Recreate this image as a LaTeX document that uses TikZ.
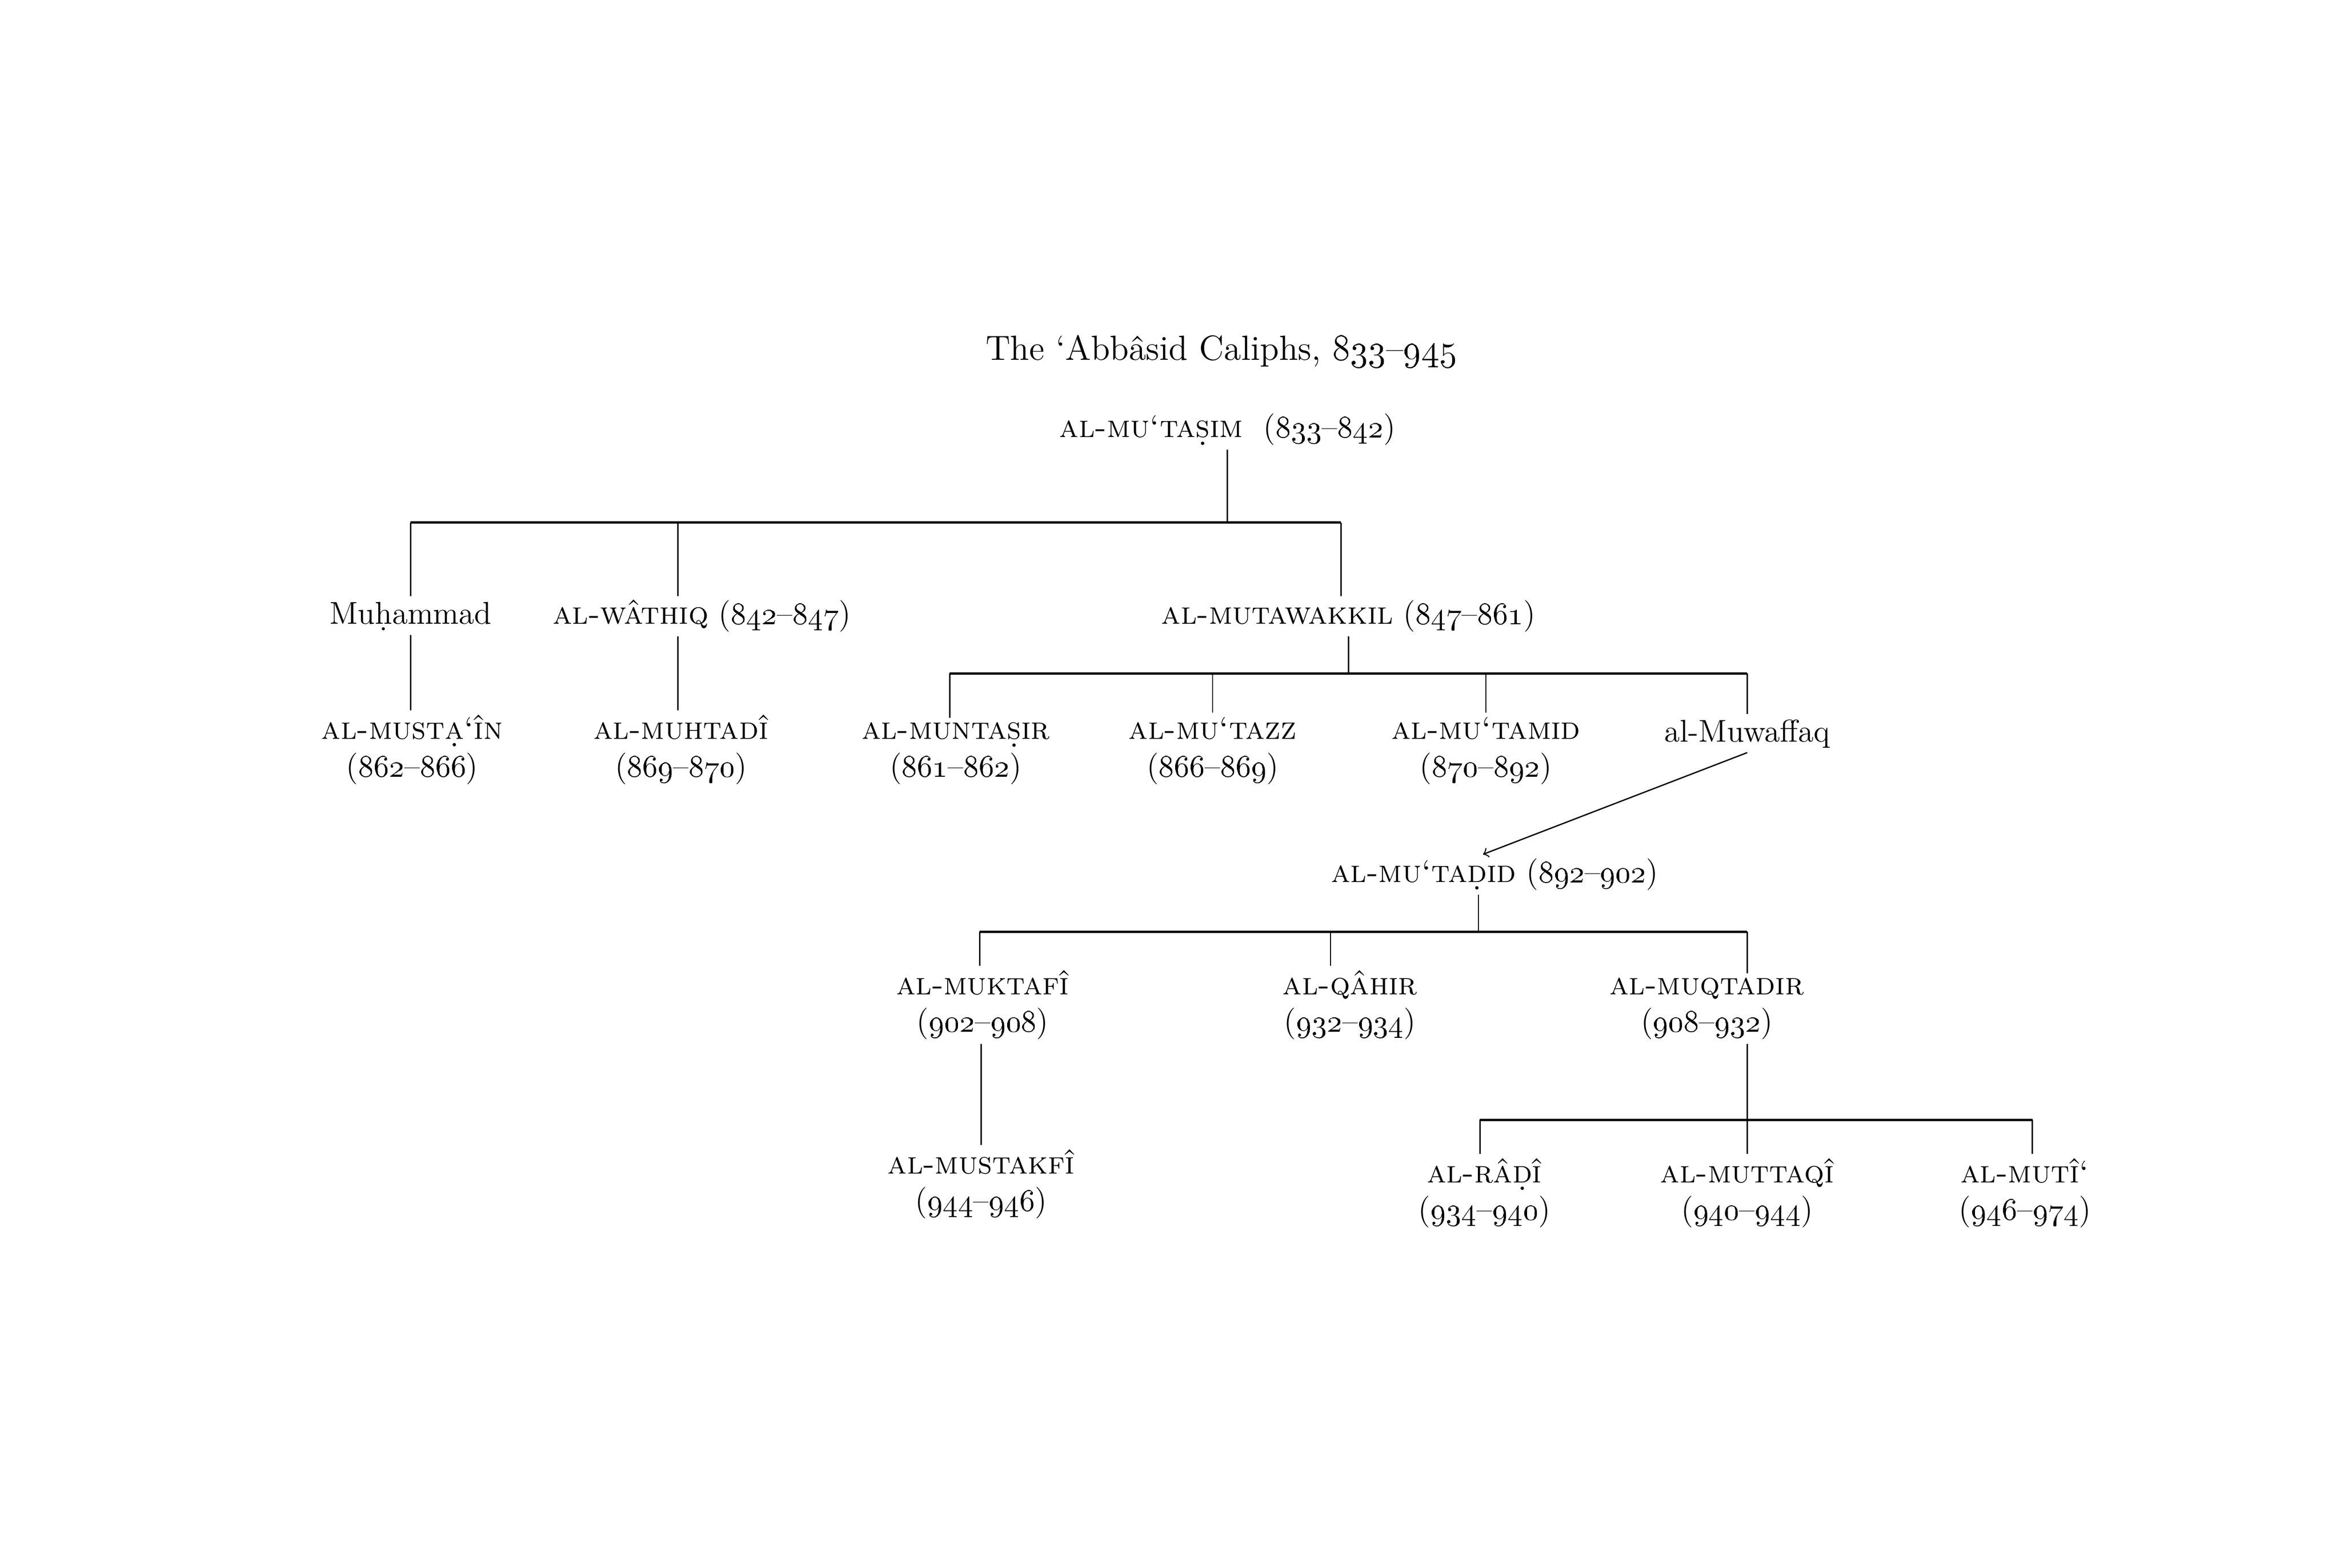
\documentclass[tikz,border=0pt]{standalone}
\usetikzlibrary{calc}
\newcommand\ud[1]{\oalign{#1\crcr\hidewidth.\hidewidth}}
\newcommand\yrs[2]{(\oldstylenums{#1}--\oldstylenums{#2})}
\begin{document}
\begin{tikzpicture}[x=0.2mm,y=-0.2mm,
    every node/.style={inner sep=1.5pt,font=\fontsize{12}{14.2}\selectfont},
    caliph/.style={anchor=base,text height=9pt},
    pair/.style={align=center,anchor=base,execute at begin node={\rule{0pt}{8.5pt}}},
    stem/.style={line width=0.5pt},
    bar/.style={line width=0.9pt}]
        \useasboundingbox (0,0) rectangle (1567,1050);
        \node[anchor=base,font=\fontsize{13.3}{16}\selectfont] (title) at (818,241) {The ‘Abbâsid Caliphs, \oldstylenums{833}--\oldstylenums{945}};
        \node[caliph] (mutasim) at (822,293) {\textsc{al-mu‘ta\ud{s}im}\ \ \yrs{833}{842}};
        \node[caliph] (muhammad) at (275,418) {Mu\ud{h}ammad};
        \node[caliph] (wathiq) at (470,418) {\textsc{al-wâthiq} \yrs{842}{847}};
        \node[caliph] (mutawakkil) at (903,418) {\textsc{al-mutawakkil} \yrs{847}{861}};
        \node[pair] (mustain) at (276,520) {\textsc{al-must\ud{a}‘în}\\\yrs{862}{866}};
        \node[pair] (muhtadi) at (456,520) {\textsc{al-muhtadî}\\\yrs{869}{870}};
        \node[pair] (muntasir) at (640,520) {\textsc{al-munta\ud{s}ir}\\\yrs{861}{862}};
        \node[pair] (mutazz) at (812,520) {\textsc{al-mu‘tazz}\\\yrs{866}{869}};
        \node[pair] (mutamid) at (995,520) {\textsc{al-mu‘tamid}\\\yrs{870}{892}};
        \node[caliph] (muwaffaq) at (1170,497) {al-Muwaffaq};
        \node[caliph] (mutadid) at (1001,591) {\textsc{al-mu‘ta\ud{d}id} \yrs{892}{902}};
        \node[pair] (muktafi) at (658,691) {\textsc{al-muktafî}\\\yrs{902}{908}};
        \node[pair] (qahir) at (904,691) {\textsc{al-qâhir}\\\yrs{932}{934}};
        \node[pair] (muqtadir) at (1143,691) {\textsc{al-muqtadir}\\\yrs{908}{932}};
        \node[pair] (mustakfi) at (657,811) {\textsc{al-mustakfî}\\\yrs{944}{946}};
        \node[pair] (radi) at (994,817) {\textsc{al-râ\ud{d}î}\\\yrs{934}{940}};
        \node[pair] (muttaqi) at (1170,817) {\textsc{al-muttaqî}\\\yrs{940}{944}};
        \node[pair] (muti) at (1356,817) {\textsc{al-mutî‘}\\\yrs{946}{974}};
        \coordinate (b1l) at (275,350);
        \coordinate (b1w) at (454,350);
        \coordinate (b1r) at (898,350);
        \coordinate (b2l) at (636,451);
        \coordinate (b2r) at (1170,451);
        \coordinate (b3) at (990,624);
        \coordinate (b3l) at (656,624);
        \coordinate (b3q) at (891,624);
        \coordinate (b3r) at (1170,624);
        \coordinate (b4l) at (991,750);
        \coordinate (b4r) at (1361,750);
        \draw[bar] (b1l) -- (b1r);
        \draw[bar] (b2l) -- (b2r);
        \draw[bar] (b3l) -- (b3r);
        \draw[bar] (b4l) -- (b4r);
        \draw[stem] (mutasim.south) -- (mutasim.south |- b1l);
        \draw[stem] (b1l) -- (b1l |- muhammad.north);
        \draw[stem] (b1w) -- (b1w |- wathiq.north);
        \draw[stem] (b1r) -- (b1r |- mutawakkil.north);
        \draw[stem] (muhammad.south) -- (muhammad.south |- mustain.north);
        \draw[stem] (b1w |- wathiq.south) -- (b1w |- muhtadi.north);
        \draw[stem] (mutawakkil.south) -- (mutawakkil.south |- b2l);
        \draw[stem] (b2l) -- (b2l |- muntasir.north);
        \draw[stem] (mutazz.north |- b2l) -- (mutazz.north);
        \draw[stem] (mutamid.north |- b2l) -- (mutamid.north);
        \draw[stem] (b2r) -- (b2r |- muwaffaq.north);
        \draw[stem,->] (muwaffaq.south) -- ([xshift=-4.5pt]mutadid.north);
        \draw[stem] (b3 |- mutadid.south) -- (b3);
        \draw[stem] (b3l) -- (b3l |- muktafi.north);
        \draw[stem] (b3q) -- (b3q |- qahir.north);
        \draw[stem] (b3r) -- (b3r |- muqtadir.north);
        \draw[stem] (mustakfi.north |- muktafi.south) -- (mustakfi.north);
        \draw[stem] (b3r |- muqtadir.south) -- (muttaqi.north);
        \draw[stem] (b4l) -- (b4l |- radi.north);
        \draw[stem] (b4r) -- (b4r |- muti.north);
    \end{tikzpicture}
\end{document}
